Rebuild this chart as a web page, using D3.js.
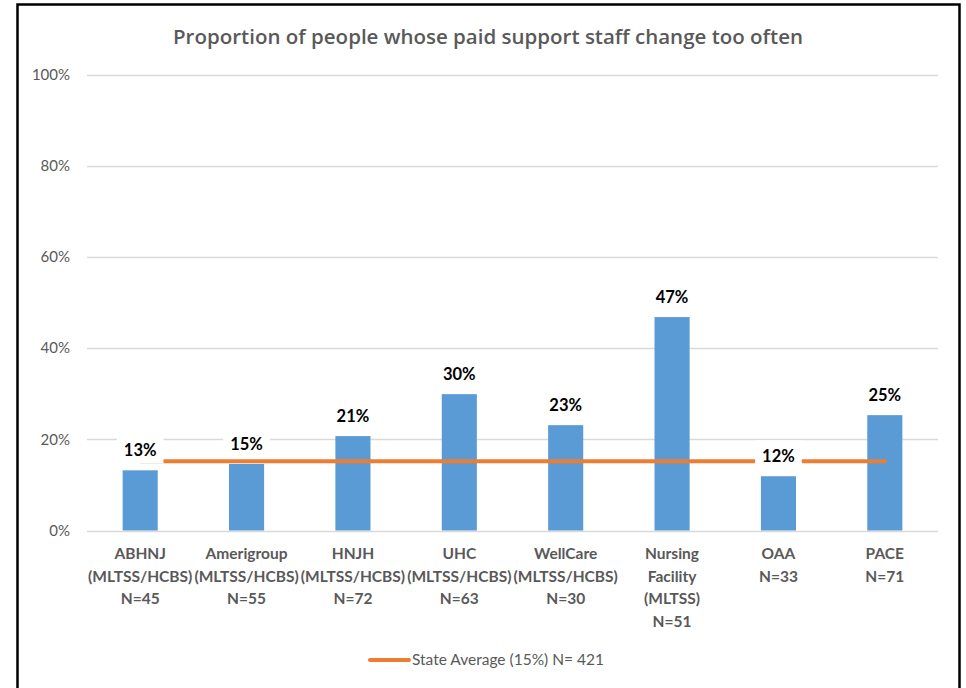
<!DOCTYPE html>
<html>
<head>
<meta charset="utf-8">
<script src="https://cdn.jsdelivr.net/npm/d3@7/dist/d3.min.js"></script>
<style>
  html, body { margin: 0; padding: 0; background: #fff; }
  svg { display: block; }
</style>
</head>
<body>
<script>
// ---- data ----
const categories = ["ABHNJ", "Amerigroup", "HNJH", "UHC", "WellCare", "Nursing Facility", "OAA", "PACE"];
const categoryLines = [
  ["ABHNJ", "(MLTSS/HCBS)", "N=45"],
  ["Amerigroup", "(MLTSS/HCBS)", "N=55"],
  ["HNJH", "(MLTSS/HCBS)", "N=72"],
  ["UHC", "(MLTSS/HCBS)", "N=63"],
  ["WellCare", "(MLTSS/HCBS)", "N=30"],
  ["Nursing", "Facility", "(MLTSS)", "N=51"],
  ["OAA", "N=33"],
  ["PACE", "N=71"]
];
const values = [13.2, 14.6, 20.7, 29.9, 23.1, 46.8, 11.9, 25.3];
const valueLabels = ["13%", "15%", "21%", "30%", "23%", "47%", "12%", "25%"];
const stateAverage = 15.2;
const yTicks = [0, 20, 40, 60, 80, 100];
const title = "Proportion of people whose paid support staff change too often";
const legendLabel = "State Average (15%) N= 421";

// ---- layout ----
const W = 966, H = 688;
const font = "Lato, 'Open Sans', sans-serif";
const svg = d3.select("body").append("svg").attr("width", W).attr("height", H);

svg.append("rect").attr("x", 0).attr("y", 0).attr("width", W).attr("height", H).attr("fill", "#fff");
svg.append("rect").attr("x", 17.5).attr("y", 4.5).attr("width", 942).attr("height", 700)
  .attr("fill", "none").attr("stroke", "#000").attr("stroke-width", 2.5);

const x = d3.scaleBand().domain(categories).range([87, 938]).paddingInner(0.67).paddingOuter(0.335);
const y = d3.scaleLinear().domain([0, 100]).range([530.5, 74.5]);

// title
svg.append("text").attr("x", 488).attr("y", 44).attr("text-anchor", "middle")
  .attr("font-family", "'Open Sans', sans-serif").attr("font-size", 20.5).attr("font-weight", 600)
  .attr("fill", "#595959").text(title);

// gridlines
svg.append("g").selectAll("line").data(yTicks).join("line")
  .attr("x1", 87).attr("x2", 938)
  .attr("y1", d => Math.round(y(d)) + 0.5).attr("y2", d => Math.round(y(d)) + 0.5)
  .attr("stroke", "#d9d9d9").attr("stroke-width", 1.3);

// y axis labels
const yAxis = d3.axisLeft(y).tickValues(yTicks).tickFormat(d => d + "%").tickSize(0).tickPadding(0);
const yg = svg.append("g").attr("transform", "translate(70,0)").call(yAxis);
yg.select(".domain").remove();
yg.selectAll("text").attr("font-family", font).attr("font-size", 15).attr("fill", "#595959");

// bars
svg.append("g").selectAll("rect").data(values).join("rect")
  .attr("x", (d, i) => x(categories[i]))
  .attr("y", d => y(d))
  .attr("width", x.bandwidth())
  .attr("height", d => y(0) - y(d))
  .attr("fill", "#5b9bd5");

// state average line
const line = d3.line().x(d => x(d) + x.bandwidth() / 2).y(() => y(stateAverage));
svg.append("path").datum([categories[0], categories[categories.length - 1]])
  .attr("d", line).attr("fill", "none").attr("stroke", "#ed7d31")
  .attr("stroke-width", 4).attr("stroke-linecap", "round");

// data labels with white boxes
const lg = svg.append("g");
values.forEach((v, i) => {
  const cx = x(categories[i]) + x.bandwidth() / 2;
  const base = y(v) - 14;
  const t = lg.append("text").attr("x", cx).attr("y", base).attr("text-anchor", "middle")
    .attr("font-family", font).attr("font-size", 16.5).attr("font-weight", "bold")
    .attr("fill", "#000").text(valueLabels[i]);
  const w = t.node().getComputedTextLength();
  lg.insert("rect", "text").attr("x", cx - w / 2 - 7).attr("y", base - 22)
    .attr("width", w + 14).attr("height", 29).attr("fill", "#fff");
});

// category labels
const cg = svg.append("g");
categoryLines.forEach((lines, i) => {
  const cx = x(categories[i]) + x.bandwidth() / 2;
  lines.forEach((s, j) => {
    cg.append("text").attr("x", cx).attr("y", 559 + j * 22.5).attr("text-anchor", "middle")
      .attr("font-family", font).attr("font-size", 15.5).attr("font-weight", "bold")
      .attr("fill", "#595959").text(s);
  });
});

// legend
svg.append("line").attr("x1", 370).attr("x2", 409).attr("y1", 660).attr("y2", 660)
  .attr("stroke", "#ed7d31").attr("stroke-width", 4).attr("stroke-linecap", "round");
svg.append("text").attr("x", 412).attr("y", 665).attr("font-family", font).attr("font-size", 15.5)
  .attr("fill", "#595959").text(legendLabel);
</script>
</body>
</html>
